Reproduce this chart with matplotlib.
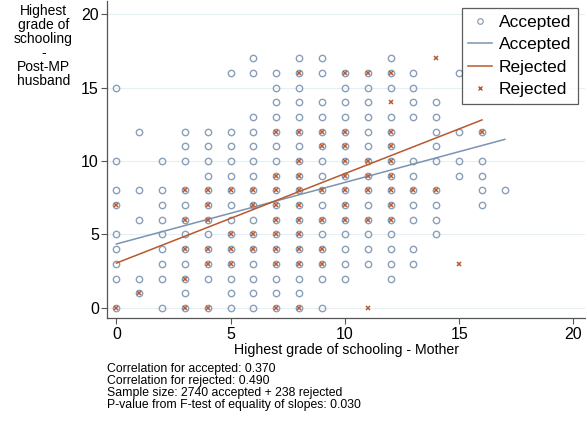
import matplotlib
matplotlib.use("Agg")
import matplotlib.pyplot as plt
from matplotlib.lines import Line2D

plt.rcParams['font.family'] = ['Liberation Sans', 'DejaVu Sans']

# grade of husband (y) -> grades of mother (x) present in each group
accepted_rows = {
    17: [6, 8, 9, 12],
    16: [5, 6, 7, 8, 9, 10, 11, 12, 13, 15],
    15: [0, 7, 8, 10, 11, 12, 13],
    14: [7, 8, 9, 10, 11, 13, 14],
    13: [6, 7, 8, 9, 10, 11, 12, 13, 14],
    12: [1, 3, 4, 5, 6, 7, 8, 9, 10, 11, 12, 14, 15, 16],
    11: [3, 4, 5, 6, 7, 8, 9, 10, 11, 12, 14],
    10: [0, 2, 3, 4, 5, 6, 7, 8, 9, 10, 11, 12, 13, 14, 15, 16],
    9: [4, 5, 6, 7, 8, 9, 10, 11, 12, 13, 15, 16],
    8: [0, 1, 2, 3, 4, 5, 6, 7, 8, 9, 10, 11, 12, 13, 14, 16, 17],
    7: [0, 2, 3, 4, 5, 6, 7, 8, 9, 10, 11, 12, 13, 14, 16],
    6: [1, 2, 3, 4, 5, 6, 7, 8, 9, 10, 11, 12, 13, 14],
    5: [0, 2, 3, 4, 5, 6, 7, 8, 9, 10, 11, 12, 14],
    4: [0, 2, 3, 4, 5, 6, 7, 8, 9, 10, 11, 12, 13],
    3: [0, 2, 3, 4, 5, 6, 7, 8, 9, 10, 11, 12, 13],
    2: [0, 1, 2, 3, 4, 5, 6, 7, 8, 9, 10, 12],
    1: [1, 3, 5, 6, 7, 8],
    0: [0, 2, 3, 4, 5, 6, 7, 8, 9],
}
rejected_rows = {
    17: [14],
    16: [8, 10, 11, 12],
    14: [12],
    12: [7, 8, 9, 10, 12, 16],
    11: [9, 10, 12],
    10: [8, 10, 11, 12],
    9: [7, 8, 10, 11, 12],
    8: [3, 4, 5, 6, 7, 8, 9, 10, 11, 12, 13, 14],
    7: [0, 4, 6, 7, 8, 10, 12],
    6: [3, 4, 7, 8, 9, 10, 11, 12],
    5: [5, 6, 7, 8],
    4: [3, 4, 5, 6, 7, 8, 9],
    3: [4, 5, 7, 8, 9, 15],
    2: [3],
    1: [1],
    0: [0, 3, 4, 7, 8, 11],
}

# fitted lines (intercept, slope)
fit_accepted = (4.35, 0.419)
fit_rejected = (3.05, 0.609)

notes = [
    "Correlation for accepted: 0.370",
    "Correlation for rejected: 0.490",
    "Sample size: 2740 accepted + 238 rejected",
    "P-value from F-test of equality of slopes: 0.030",
]


def flatten(rows):
    xs, ys = [], []
    for y, xlist in rows.items():
        for x in xlist:
            xs.append(x)
            ys.append(y)
    return xs, ys


acc_x, acc_y = flatten(accepted_rows)
rej_x, rej_y = flatten(rejected_rows)

BLUE = '#8a9fba'
BLUE_LINE = '#7b93b1'
RED = '#b8582c'

fig = plt.figure(figsize=(5.86, 4.22), dpi=100)
ax = fig.add_axes([0.183, 0.246, 0.815, 0.752])

for gy in [0, 5, 10, 15, 20]:
    ax.axhline(gy, color='#e6eff2', lw=0.8, zorder=0)

ax.plot(acc_x, acc_y, 'o', ms=4.6, mfc='none', mec=BLUE, mew=1.0, zorder=2)

xa = [0, max(acc_x)]
ax.plot(xa, [fit_accepted[0] + fit_accepted[1] * v for v in xa], color=BLUE_LINE, lw=1.1, zorder=3)
xr = [0, max(rej_x)]
ax.plot(xr, [fit_rejected[0] + fit_rejected[1] * v for v in xr], color=RED, lw=1.1, zorder=3)

ax.plot(rej_x, rej_y, 'x', ms=3.2, mec=RED, mew=1.1, zorder=4)

ax.set_xlim(-0.4, 20.5)
ax.set_ylim(-0.7, 20.9)
ax.set_xticks([0, 5, 10, 15, 20])
ax.set_yticks([0, 5, 10, 15, 20])
ax.tick_params(labelsize=11.5, length=4, width=0.8, color='#555555', pad=2)
for side in ['top', 'right']:
    ax.spines[side].set_visible(False)
for side in ['left', 'bottom']:
    ax.spines[side].set_color('#555555')
    ax.spines[side].set_linewidth(0.9)

ax.set_xlabel("Highest grade of schooling - Mother", fontsize=10.2, labelpad=1)
fig.text(0.074, 0.99, "Highest\ngrade of\nschooling\n-\nPost-MP\nhusband",
         ha='center', va='top', fontsize=10, linespacing=1.0)

handles = [
    Line2D([], [], ls='none', marker='o', ms=4, mfc='none', mec=BLUE, mew=0.9),
    Line2D([], [], color=BLUE_LINE, lw=1.1),
    Line2D([], [], color=RED, lw=1.1),
    Line2D([], [], ls='none', marker='x', ms=3.2, mec=RED, mew=1.0),
]
leg = ax.legend(handles, ["Accepted", "Accepted", "Rejected", "Rejected"],
                loc='upper right', bbox_to_anchor=(0.997, 0.995), fontsize=12.5,
                frameon=True, fancybox=False, edgecolor='#333333',
                handlelength=1.35, labelspacing=0.42, borderpad=0.4,
                handletextpad=0.4, borderaxespad=0.3)
leg.get_frame().set_linewidth(0.9)

fig.text(0.183, 0.14, "\n".join(notes), ha='left', va='top', fontsize=8.8, linespacing=1.02)

fig.savefig("out.png", dpi=100)
